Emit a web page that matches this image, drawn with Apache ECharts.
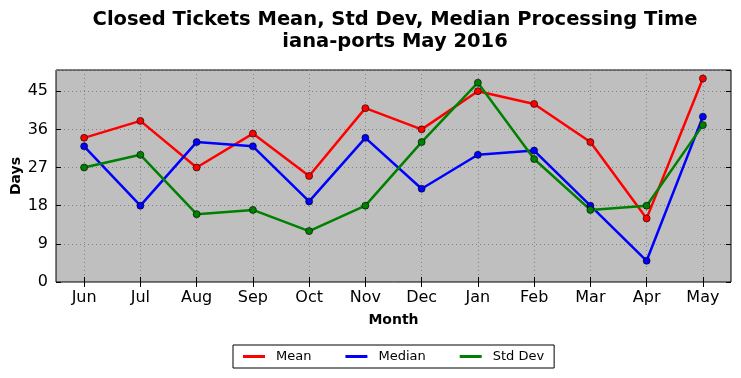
<!DOCTYPE html>
<html><head><meta charset="utf-8">
<script src="https://cdn.jsdelivr.net/npm/echarts@6/dist/echarts.min.js"></script>
<style>html,body{margin:0;padding:0;background:#fff}#c{width:741px;height:378px}</style>
</head><body><div id="c"></div>
<script>
const months = ['Jun','Jul','Aug','Sep','Oct','Nov','Dec','Jan','Feb','Mar','Apr','May'];
const meanVals = [34,38,27,35,25,41,36,45,42,33,15,48];
const medianVals = [32,18,33,32,19,34,22,30,31,18,5,39];
const stdVals = [27,30,16,17,12,18,33,47,29,17,18,37];
const yTicks = [0,9,18,27,36,45];

const chart = echarts.init(document.getElementById('c'));
const font = 'DejaVu Sans';
function mkSeries(name, data, color){
  return {name, type:'line', data, xAxisIndex:0, yAxisIndex:0,
    symbol:'circle', symbolSize:7,
    lineStyle:{color, width:2.5},
    itemStyle:{color, borderColor:'#000', borderWidth:0.6},
    emphasis:{disabled:true}, animation:false, z:3};
}
chart.setOption({
  animation:false,
  textStyle:{fontFamily:font},
  title:{text:'Closed Tickets Mean, Std Dev, Median Processing Time\niana-ports May 2016',
    left:390, top:4, textAlign:'center',
    textStyle:{fontFamily:font, fontWeight:'bold', fontSize:19.5, color:'#000', lineHeight:22}},
  legend:{bottom:10, left:233, itemWidth:22, itemHeight:3, itemGap:34,
    icon:'rect', borderColor:'#000', borderWidth:1, padding:[5,10,5,10],
    itemStyle:{borderWidth:0},
    textStyle:{fontFamily:font, fontSize:13, color:'#000', padding:[0,0,0,6]},
    data:['Mean','Median','Std Dev']},
  grid:{left:56, right:10, top:70, bottom:96, show:true, backgroundColor:'#bfbfbf',
    borderColor:'#000', borderWidth:1, outerBoundsMode:'none', containLabel:false},
  xAxis:[{type:'category', data:months, boundaryGap:true,
    name:'Month', nameLocation:'middle', nameGap:31, nameMoveOverlap:false,
    nameTextStyle:{fontFamily:font, fontWeight:'bold', fontSize:14, color:'#000'},
    axisLine:{show:false},
    axisTick:{show:true, alignWithLabel:true, inside:true, length:5, lineStyle:{color:'#000'}},
    axisLabel:{fontFamily:font, fontSize:16, color:'#000', margin:8},
    splitLine:{show:true, alignWithLabel:true, lineStyle:{color:'#808080', type:[1,3], width:1}}},
   {type:'category', data:months, boundaryGap:true, position:'top',
    axisLine:{show:false},
    axisTick:{show:true, alignWithLabel:true, inside:true, length:5, lineStyle:{color:'#000'}},
    axisLabel:{show:false}, splitLine:{show:false}}],
  yAxis:[{type:'value', min:0, max:50, interval:9,
    name:'Days', nameLocation:'middle', nameGap:33, nameRotate:90, nameMoveOverlap:false,
    nameTextStyle:{fontFamily:font, fontWeight:'bold', fontSize:14, color:'#000'},
    axisLine:{show:false},
    axisTick:{show:true, inside:true, length:5, lineStyle:{color:'#000'}},
    axisLabel:{fontFamily:font, fontSize:16, color:'#000', margin:8, showMaxLabel:false,
      formatter:v=> yTicks.indexOf(v)>=0 ? String(v) : ''},
    splitLine:{show:true, lineStyle:{color:'#808080', type:[1,3], width:1}}},
   {type:'value', min:0, max:50, interval:9, position:'right',
    axisLine:{show:false},
    axisTick:{show:true, inside:true, length:5, lineStyle:{color:'#000'}},
    axisLabel:{show:false}, splitLine:{show:false}}],
  series:[mkSeries('Mean', meanVals, '#ff0000'),
          mkSeries('Median', medianVals, '#0000ff'),
          mkSeries('Std Dev', stdVals, '#008000')]
});
</script></body></html>
